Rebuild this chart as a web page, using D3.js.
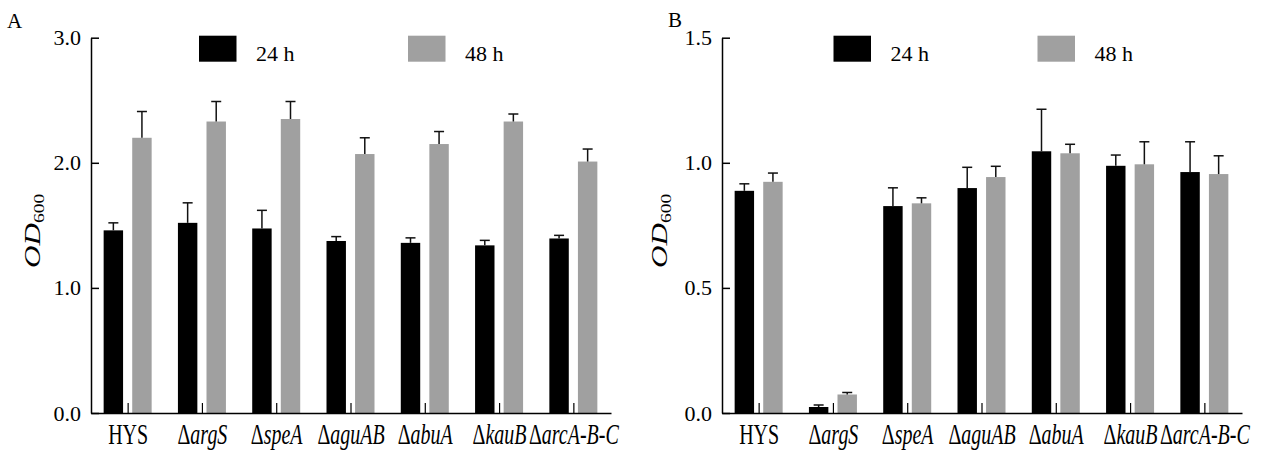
<!DOCTYPE html>
<html lang="en">
<head>
  <meta charset="utf-8">
  <script src="https://d3js.org/d3.v7.min.js"></script>
  <style type="text/css">
    body { margin: 0; background: #fff; }
    text { font-family: "Liberation Serif", "Times New Roman", serif; }
  </style>
</head>

<body>
  <svg id="chart" width="1277" height="450"></svg>

  <script>
    // strains on the x axis (Δ prefix + italic gene name)
    const categories = ["HYS", "ΔargS", "ΔspeA", "ΔaguAB", "ΔabuA", "ΔkauB", "ΔarcA-B-C"];
    const series = ["24 h", "48 h"];

    // panel A
    const a24 = [1.46, 1.52, 1.475, 1.375, 1.36, 1.34, 1.395];
    const a24err = [0.06, 0.16, 0.145, 0.035, 0.04, 0.04, 0.025];
    const a48 = [2.20, 2.33, 2.35, 2.07, 2.15, 2.33, 2.01];
    const a48err = [0.21, 0.16, 0.14, 0.13, 0.10, 0.06, 0.10];
    const aTicks = [0, 1, 2, 3];

    // panel B
    const b24 = [0.888, 0.024, 0.827, 0.899, 1.046, 0.988, 0.963];
    const b24err = [0.028, 0.008, 0.073, 0.083, 0.168, 0.043, 0.121];
    const b48 = [0.924, 0.074, 0.838, 0.943, 1.038, 0.994, 0.955];
    const b48err = [0.035, 0.008, 0.022, 0.043, 0.036, 0.09, 0.073];
    const bTicks = [0, 0.5, 1.0, 1.5];

    const colors = ["#000000", "#a0a0a0"];
    const svg = d3.select("svg#chart");
    svg.append("rect").attr("width", 1277).attr("height", 450).attr("fill", "#fff");

    function drawPanel(opt) {
      const g = svg.append("g");
      const top = 37.7, bottom = 413;

      const x = d3.scaleBand().domain(categories).range([opt.left, opt.left + 520]);
      const x1 = d3.scaleBand().domain(series).range([-24.5, 23.5]).paddingInner(0.32);
      const y = d3.scaleLinear().domain([0, opt.max]).range([bottom, top]);

      const rows = [];
      categories.forEach((c, i) => {
        rows.push({ cat: c, s: series[0], v: opt.v24[i], e: opt.e24[i] });
        rows.push({ cat: c, s: series[1], v: opt.v48[i], e: opt.e48[i] });
      });
      const cx = (d) => x(d.cat) + x.bandwidth() / 2 + x1(d.s);

      g.selectAll("rect.bar")
        .data(rows)
        .join("rect")
        .attr("class", "bar")
        .attr("x", cx)
        .attr("width", x1.bandwidth())
        .attr("y", (d) => y(d.v))
        .attr("height", (d) => y(0) - y(d.v))
        .attr("fill", (d) => colors[series.indexOf(d.s)]);

      // error bars
      const eb = g.selectAll("g.err").data(rows).join("g").attr("class", "err")
        .attr("stroke", "#111").attr("stroke-width", 1.5);
      eb.append("line")
        .attr("x1", (d) => cx(d) + x1.bandwidth() / 2)
        .attr("x2", (d) => cx(d) + x1.bandwidth() / 2)
        .attr("y1", (d) => y(d.v))
        .attr("y2", (d) => y(d.v + d.e));
      eb.append("line")
        .attr("x1", (d) => cx(d) + x1.bandwidth() / 2 - 5)
        .attr("x2", (d) => cx(d) + x1.bandwidth() / 2 + 5)
        .attr("y1", (d) => y(d.v + d.e))
        .attr("y2", (d) => y(d.v + d.e));

      // y axis, ticks pointing inward
      const yAxis = g.append("g")
        .attr("transform", "translate(" + opt.left + ",0)")
        .call(d3.axisLeft(y).tickValues(opt.ticks).tickFormat(d3.format(".1f"))
          .tickSizeInner(-8).tickSizeOuter(0).tickPadding(10));
      yAxis.select(".domain").attr("stroke-width", 1.5);
      yAxis.selectAll(".tick line").attr("stroke-width", 1.5);
      yAxis.selectAll(".tick text").attr("font-size", 22).attr("fill", "#000")
        .attr("font-family", "Liberation Serif");

      // x axis, small ticks up between the bars
      const xAxis = g.append("g")
        .attr("transform", "translate(0," + bottom + ")")
        .call(d3.axisBottom(x).tickFormat("").tickSizeInner(-10).tickSizeOuter(0));
      xAxis.select(".domain").attr("stroke-width", 1.5);
      xAxis.selectAll(".tick line").attr("stroke-width", 1.2);

      // category labels (tall glyphs)
      categories.forEach((c) => {
        const t = g.append("text")
          .attr("transform", "translate(" + (x(c) + x.bandwidth() / 2) + ",444) scale(1,1.45)")
          .attr("text-anchor", "middle")
          .attr("font-size", 20)
          .attr("fill", "#000");
        if (c[0] != "Δ") {
          t.text(c);
          return;
        }
        t.append("tspan").text("Δ");
        c.slice(1).split(/(-)/).forEach((p) => {
          t.append("tspan").attr("font-style", p == "-" ? "normal" : "italic").text(p);
        });
      });

      // y label OD600 (stretched along its length)
      const yl = g.append("text")
        .attr("transform", "translate(" + opt.labelX + ",268) rotate(-90) scale(1.3,1)")
        .attr("font-size", 24)
        .attr("font-style", "italic")
        .attr("fill", "#000");
      yl.append("tspan").text("OD");
      yl.append("tspan").attr("font-size", 15).attr("font-style", "normal").attr("dy", 4).text("600");

      // legend
      series.forEach((s, i) => {
        g.append("rect")
          .attr("x", opt.legX[i]).attr("y", 35.7)
          .attr("width", 37.5).attr("height", 26)
          .attr("fill", colors[i]);
        g.append("text")
          .attr("x", opt.legX[i] + 57).attr("y", 61)
          .attr("font-size", 22).attr("fill", "#000")
          .text(s);
      });

      // panel letter
      g.append("text")
        .attr("x", opt.letterX).attr("y", opt.letterY)
        .attr("font-size", 21).attr("fill", "#000")
        .text(opt.letter);
    }

    drawPanel({
      left: 91, max: 3, ticks: aTicks, v24: a24, e24: a24err, v48: a48, e48: a48err,
      labelX: 40, legX: [199, 408], letter: "A", letterX: 7, letterY: 28
    });
    drawPanel({
      left: 722, max: 1.5, ticks: bTicks, v24: b24, e24: b24err, v48: b48, e48: b48err,
      labelX: 667, legX: [833.5, 1037.5], letter: "B", letterX: 668, letterY: 26.5
    });
  </script>
</body>
</html>
